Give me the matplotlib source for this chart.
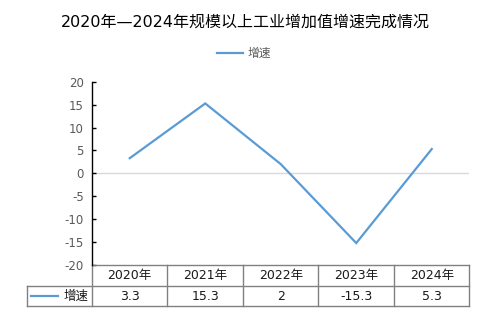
import matplotlib
matplotlib.use("Agg")
import matplotlib.pyplot as plt
import matplotlib.transforms as mtransforms
from matplotlib.lines import Line2D

plt.rcParams['font.family'] = ['DejaVu Sans', 'Noto Sans CJK SC']

title = "2020年—2024年规模以上工业增加值增速完成情况"
series_name = "增速"
years = ["2020年", "2021年", "2022年", "2023年", "2024年"]
growth = [3.3, 15.3, 2, -15.3, 5.3]
yticks = [-20, -15, -10, -5, 0, 5, 10, 15, 20]

line_color = "#5B9BD5"
grid_gray = "#808080"
text_gray = "#595959"

W, H = 489, 327
fig = plt.figure(figsize=(W / 100, H / 100), dpi=100)

# plot area in pixel coordinates
left_px, right_px, top_px, bottom_px = 92, 469.5, 82, 264.5
ax = fig.add_axes([left_px / W, 1 - bottom_px / H,
                   (right_px - left_px) / W, (bottom_px - top_px) / H])

x = list(range(len(years)))
ax.plot(x, growth, color=line_color, lw=1.6, solid_joinstyle='miter', zorder=3)
ax.axhline(0, color="#d9d9d9", lw=1, zorder=1)

ax.set_xlim(-0.5, len(years) - 0.5)
ax.set_ylim(-20, 20)
ax.set_yticks(yticks)
ax.set_yticklabels([str(v) for v in yticks], color=text_gray, fontsize=8.5)
ax.set_xticks([])
ax.tick_params(axis='y', direction='in', length=3, width=1, pad=6, colors='black',
               labelcolor=text_gray)
for s in ['top', 'right', 'bottom']:
    ax.spines[s].set_visible(False)
ax.spines['left'].set_color('black')
ax.spines['left'].set_linewidth(1)

# data table below the plot: x in data units, y in pixels below axes bottom
axes_h = bottom_px - top_px
def ypx(px_below):
    return -px_below / axes_h

trans = mtransforms.blended_transform_factory(ax.transData, ax.transAxes)
row1_bot = ypx(286 - bottom_px)
row2_bot = ypx(306 - bottom_px)
px_per_unit = (right_px - left_px) / len(years)
legend_left = -0.5 - (left_px - 27.5) / px_per_unit

def seg(x0, x1, y0, y1):
    ax.add_line(Line2D([x0, x1], [y0, y1], transform=trans, color=grid_gray,
                       lw=1, clip_on=False, zorder=2))

n = len(years)
seg(-0.5, n - 0.5, 0, 0)
seg(legend_left, n - 0.5, row1_bot, row1_bot)
seg(legend_left, n - 0.5, row2_bot, row2_bot)
seg(legend_left, legend_left, row1_bot, row2_bot)
for i in range(n + 1):
    seg(i - 0.5, i - 0.5, 0, row2_bot)

for i, (yr, v) in enumerate(zip(years, growth)):
    ax.text(i, row1_bot / 2, yr, transform=trans, ha='center', va='center',
            fontsize=9, color='#1a1a1a')
    ax.text(i, (row1_bot + row2_bot) / 2, f"{v:g}", transform=trans,
            ha='center', va='center', fontsize=9, color='#1a1a1a')

# legend key inside table
key_y = (row1_bot + row2_bot) / 2
kx0 = legend_left + 4 / px_per_unit
kx1 = kx0 + 27 / px_per_unit
ax.add_line(Line2D([kx0, kx1], [key_y, key_y], transform=trans, color=line_color,
                   lw=1.6, clip_on=False))
ax.text(-0.5 - 3 / px_per_unit, key_y, series_name, transform=trans,
        ha='right', va='center', fontsize=9, color='#1a1a1a')

# title and top legend
fig.text(245 / W, 1 - 22 / H, title, ha='center', va='center', fontsize=11.5,
         color='black')
fig.add_artist(Line2D([217 / W, 243 / W], [1 - 53 / H, 1 - 53 / H],
                      transform=fig.transFigure, color=line_color, lw=1.6))
fig.text(248 / W, 1 - 53 / H, series_name, ha='left', va='center', fontsize=8.5,
         color=text_gray)

fig.savefig("out.png", dpi=100, facecolor='white')
